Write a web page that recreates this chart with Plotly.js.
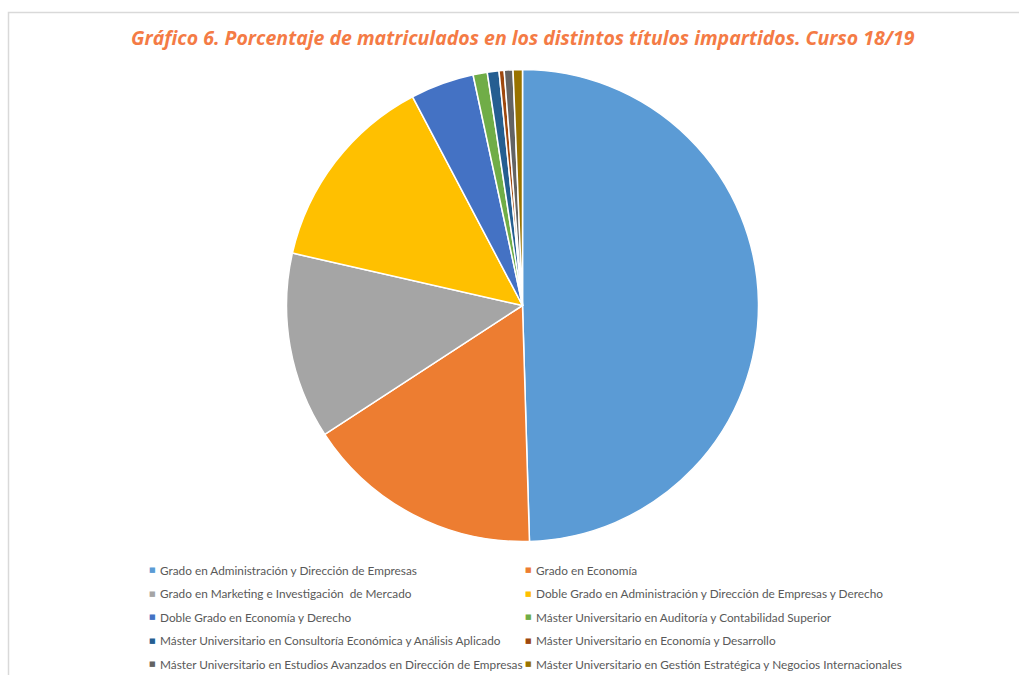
<!DOCTYPE html>
<html>
<head>
<meta charset="utf-8">
<script src="https://cdn.plot.ly/plotly-3.0.1.min.js"></script>
<style>html,body{margin:0;padding:0;background:#fff;}#chart{width:1019px;height:675px;}</style>
</head>
<body>
<div id="chart"></div>
<script>
const titulos = [
  "Grado en Administración y Dirección de Empresas",
  "Grado en Economía",
  "Grado en Marketing e Investigación  de Mercado",
  "Doble Grado en Administración y Dirección de Empresas y Derecho",
  "Doble Grado en Economía y Derecho",
  "Máster Universitario en Auditoría y Contabilidad Superior",
  "Máster Universitario en Consultoría Económica y Análisis Aplicado",
  "Máster Universitario en Economía y Desarrollo",
  "Máster Universitario en Estudios Avanzados en Dirección de Empresas",
  "Máster Universitario en Gestión Estratégica y Negocios Internacionales"
];
const porcentajes = [49.54, 16.28, 12.76, 13.72, 4.36, 0.97, 0.80, 0.35, 0.60, 0.64];
const colores = ["#5B9BD5", "#ED7D31", "#A5A5A5", "#FFC000", "#4472C4", "#70AD47", "#255E91", "#9E480E", "#636363", "#997300"];
const tituloGrafico = "Gráfico 6. Porcentaje de matriculados en los distintos títulos impartidos. Curso 18/19";

const W = 1019, H = 675;
const cx = 522.5, cy = 305.5, R = 236;

const trace = {
  type: "pie",
  labels: titulos,
  values: porcentajes,
  sort: false,
  direction: "clockwise",
  rotation: 0,
  textinfo: "none",
  hoverinfo: "label+percent",
  marker: { colors: colores, line: { color: "#ffffff", width: 1.5 } },
  domain: { x: [(cx - R) / W, (cx + R) / W], y: [(H - (cy + R)) / H, (H - (cy - R)) / H] },
  showlegend: false
};

const annotations = [
  {
    text: "<b><i>" + tituloGrafico + "</i></b>",
    x: 523 / W, y: 1 - 38 / H, xref: "paper", yref: "paper",
    xanchor: "center", yanchor: "middle", showarrow: false,
    font: { family: "'Open Sans', Lato, sans-serif", size: 19.5, color: "#F47B45" }
  }
];
const colX = [152, 528];
const rowY0 = 570, rowDY = 23.5;
titulos.forEach((t, i) => {
  const col = i % 2, row = Math.floor(i / 2);
  const y = 1 - (rowY0 + row * rowDY) / H;
  annotations.push({
    text: "■", x: colX[col] / W, y: y, xref: "paper", yref: "paper",
    xanchor: "center", yanchor: "middle", showarrow: false,
    font: { family: "DejaVu Sans", size: 7, color: colores[i] }
  });
  annotations.push({
    text: t, x: (colX[col] + 6) / W, y: y, xref: "paper", yref: "paper",
    xanchor: "left", yanchor: "middle", showarrow: false,
    font: { family: "Lato, 'Open Sans', sans-serif", size: 11.8, color: "#595959" }
  });
});

const layout = {
  width: W, height: H,
  margin: { l: 0, r: 0, t: 0, b: 0 },
  paper_bgcolor: "#ffffff",
  showlegend: false,
  annotations: annotations,
  shapes: [{
    type: "rect", xref: "paper", yref: "paper",
    x0: 8.5 / W, x1: 1.05, y0: -0.05, y1: 1 - 12.5 / H,
    line: { color: "#D9D9D9", width: 1.5 }, fillcolor: "rgba(0,0,0,0)"
  }]
};

Plotly.newPlot("chart", [trace], layout, { displayModeBar: false, staticPlot: true });
</script>
</body>
</html>
